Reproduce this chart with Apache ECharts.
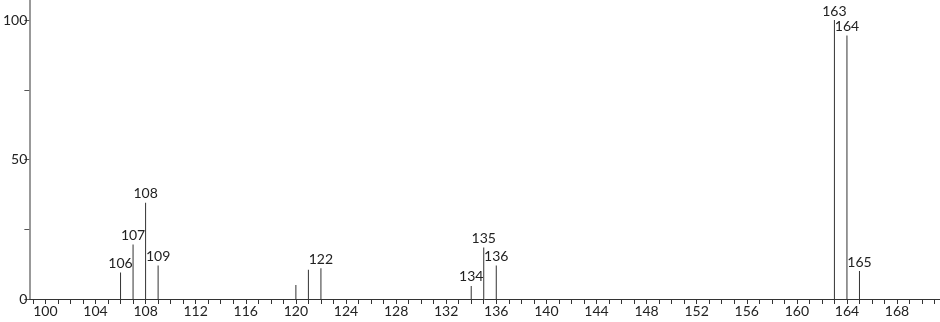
<!DOCTYPE html>
<html>
<head>
<meta charset="utf-8">
<script src="https://cdn.jsdelivr.net/npm/echarts@6/dist/echarts.min.js"></script>
<style>
html,body{margin:0;padding:0;background:#fff;}
#chart{width:940px;height:322px;}
</style>
</head>
<body>
<div id="chart"></div>
<script>
// m/z values and relative intensities
const mzValues = [106, 107, 108, 109, 120, 121, 122, 134, 135, 136, 163, 164, 165];
const intensities = [9.5, 19.5, 34.5, 12, 5, 10.5, 11, 4.7, 18.5, 12, 100, 94.5, 10];
const labeledPeaks = [106, 107, 108, 109, 122, 134, 135, 136, 163, 164, 165];
const xTickLabels = [100, 104, 108, 112, 116, 120, 124, 128, 132, 136, 140, 144, 148, 152, 156, 160, 164, 168];
const yTickLabels = [0, 50, 100];
const yMinorTicks = [25, 75];

const xMinorTicks = [];
for (let v = 99; v <= 171; v++) xMinorTicks.push(v);

const FONT = 'Lato';
const data = mzValues.map((m, i) => ({
  value: [m, intensities[i]],
  label: { show: labeledPeaks.indexOf(m) >= 0 }
}));

const chart = echarts.init(document.getElementById('chart'));
chart.setOption({
  animation: false,
  backgroundColor: '#fff',
  grid: { left: 29, right: 0, top: 0, bottom: 23, containLabel: false },
  xAxis: [{
    type: 'value', min: 98.72, max: 171.43,
    axisLine: { show: true, onZero: false, lineStyle: { color: '#333', width: 1 } },
    axisTick: { show: true, length: 5, inside: false, customValues: xMinorTicks, lineStyle: { color: '#333' } },
    axisLabel: { show: true, customValues: xTickLabels, margin: 5, color: '#222', fontFamily: FONT, fontSize: 14 },
    splitLine: { show: false }
  }],
  yAxis: [{
    type: 'value', min: 0, max: 107.2,
    axisLine: { show: true, lineStyle: { color: '#999', width: 2 } },
    axisTick: { show: true, length: 5, customValues: yTickLabels.concat(yMinorTicks), lineStyle: { color: '#555' } },
    axisLabel: { show: true, customValues: yTickLabels, margin: 2, color: '#222', fontFamily: FONT, fontSize: 14 },
    splitLine: { show: false }
  }],
  series: [{
    type: 'bar',
    barWidth: 1,
    data: data,
    itemStyle: { color: '#333' },
    label: {
      position: 'top', distance: 2, color: '#222', fontFamily: FONT, fontSize: 14,
      formatter: (p) => String(p.value[0])
    }
  }]
});
</script>
</body>
</html>
